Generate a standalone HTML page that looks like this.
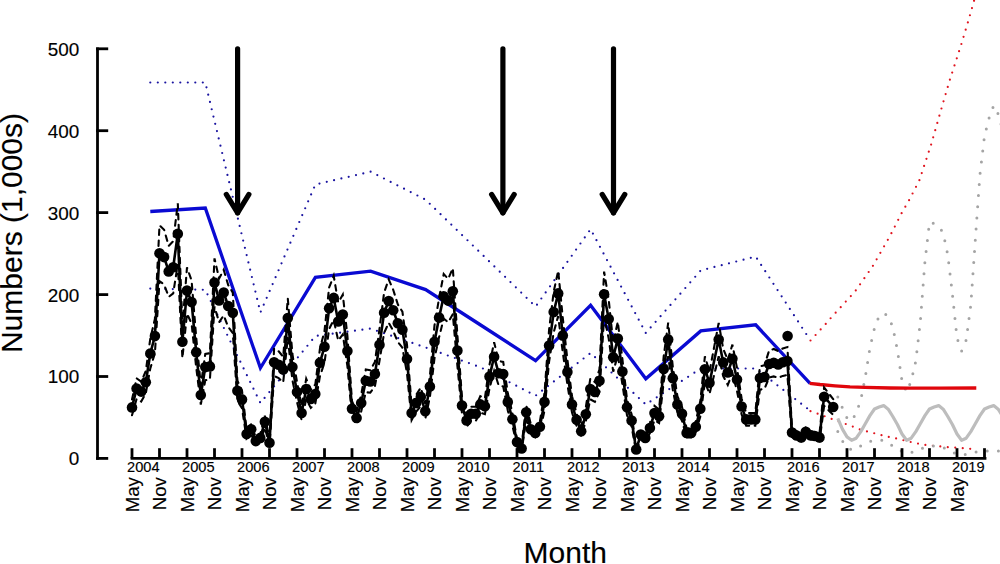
<!DOCTYPE html>
<html><head><meta charset="utf-8"><title>Chart</title>
<style>html,body{margin:0;padding:0;background:#fff;}svg{display:block;}</style>
</head><body>
<svg width="1000" height="564" viewBox="0 0 1000 564">
<rect width="1000" height="564" fill="#fff"/>
<polyline points="150.3,82.5 205.3,82.5 260.4,312.5 315.4,184.5 370.6,171.7 425.6,199.7 480.6,253.0 535.6,306.6 590.6,229.2 645.8,333.0 700.8,270.4 755.7,256.6 810.0,339.8" fill="none" stroke="#1a14a0" stroke-width="2.2" stroke-linecap="round" stroke-dasharray="0 7.5"/>
<polyline points="150.3,288.6 205.3,289.8 260.4,403.0 315.4,336.0 370.6,328.6 425.6,347.5 480.6,367.3 535.6,395.7 590.6,353.0 645.8,404.5 700.8,368.5 755.7,368.5 810.0,410.5" fill="none" stroke="#1a14a0" stroke-width="2.2" stroke-linecap="round" stroke-dasharray="0 7.5"/>
<polyline points="810.5,340.5 825.7,324.0 829.9,319.0 855.2,291.3 872.6,266.4 890.0,236.0 901.7,213.0 909.2,200.0 919.3,180.5 931.0,145.0 943.6,101.0 949.8,80.0 961.3,44.3 968.0,22.0 976.0,-6.0" fill="none" stroke="#e0141e" stroke-width="2.2" stroke-linecap="round" stroke-dasharray="0 7.5"/>
<polyline points="810.5,411.2 820.0,414.5 831.5,418.9 845.8,424.0 852.8,426.6 859.9,429.5 866.2,431.2 873.2,433.0 880.2,434.8 887.2,436.6 895.0,438.2 902.0,439.9 909.0,441.6 917.0,443.4 924.0,444.8 931.8,445.7 938.8,446.3 946.7,447.1 953.7,447.5 961.3,448.0 969.0,448.8 976.3,449.2" fill="none" stroke="#e0141e" stroke-width="2.2" stroke-linecap="round" stroke-dasharray="0 7.5"/>
<polyline points="837.8,397.0 842.4,408.0 847.0,418.0 851.6,421.0 856.2,413.0 860.8,400.0 865.3,377.0 869.9,348.0 874.5,328.0 879.1,316.0 883.7,313.0 888.2,316.0 892.8,327.0 897.4,350.0 902.0,381.0 906.6,392.0 911.2,381.0 915.8,361.0 920.3,322.0 924.9,262.0 929.5,222.0 934.1,223.5 938.7,226.0 943.2,233.0 947.8,255.0 952.4,294.0 957.0,338.0 961.6,351.0 966.2,340.0 970.8,305.0 975.3,240.0 979.9,175.0 984.5,136.0 989.1,118.0 993.7,105.5 998.2,114.0 1002.8,130.0" fill="none" stroke="#a4a4a4" stroke-width="3.0" stroke-linecap="round" stroke-dasharray="0 11.2"/>
<polyline points="837.8,431.5 842.4,441.0 847.0,447.0 851.6,450.0 856.2,449.0 860.8,446.0 865.3,443.5 869.9,441.5 874.5,440.5 879.1,440.0 883.7,440.5 888.2,443.0 892.8,446.0 897.4,449.0 902.0,451.5 906.6,453.0 911.2,452.5 915.8,451.0 920.3,449.0 924.9,447.5 929.5,446.5 934.1,446.0 938.7,446.5 943.2,447.5 947.8,450.0 952.4,452.5 957.0,454.0 961.6,455.0 966.2,454.5 970.8,453.0 975.3,452.0 979.9,451.5 984.5,451.0 989.1,451.0 993.7,451.0 998.2,451.0 1002.8,451.5" fill="none" stroke="#a4a4a4" stroke-width="3.0" stroke-linecap="round" stroke-dasharray="0 11.2"/>
<polyline points="837.8,418.4 842.4,429.1 847.0,436.9 851.6,440.3 856.2,438.2 860.8,431.6 865.3,423.8 869.9,415.6 874.5,409.0 879.1,407.0 883.7,405.6 888.2,409.2 892.8,416.5 897.4,424.5 902.0,434.0 906.6,440.3 911.2,438.2 915.8,431.6 920.3,423.8 924.9,415.6 929.5,409.0 934.1,407.0 938.7,405.6 943.2,409.2 947.8,416.5 952.4,424.5 957.0,434.0 961.6,440.3 966.2,438.2 970.8,431.6 975.3,423.8 979.9,415.6 984.5,409.0 989.1,407.0 993.7,405.6 998.2,409.2 1002.8,416.5 1007.4,424.5" fill="none" stroke="#bdbdbd" stroke-width="3.2" stroke-linejoin="round"/>
<polyline points="150.3,211.5 205.3,208.0 260.4,368.0 315.4,277.3 370.6,271.1 425.6,289.6 480.6,325.0 535.6,360.6 590.6,305.3 645.8,378.8 700.8,330.9 755.7,324.8 810.0,383.3" fill="none" stroke="#0a0ad2" stroke-width="3.3" stroke-linejoin="miter"/>
<polyline points="809.6,383.3 820.0,384.5 835.0,385.8 850.0,386.8 865.0,387.4 890.0,388.0 910.0,388.2 940.0,388.1 976.3,388.0" fill="none" stroke="#e0060c" stroke-width="3.3"/>
<polyline points="132.0,399.5 136.6,378.3 141.2,381.7 145.8,371.1 150.3,338.6 154.9,319.0 159.5,225.4 164.1,229.7 168.7,245.9 173.2,241.2 177.8,203.3 182.4,325.4 187.0,267.4 191.6,280.6 196.2,337.3 200.8,385.5 205.3,354.0 209.9,353.2 214.5,258.4 219.1,278.6 223.7,269.8 228.2,285.0 232.8,292.6 237.4,380.7 242.0,390.5 246.6,429.7 251.2,424.2 255.8,437.6 260.3,434.0 264.9,415.7 269.5,439.5 274.1,348.5 278.7,351.3 283.2,356.8 287.8,298.5 292.4,354.0 297.0,382.1 301.6,405.9 306.2,378.7 310.8,389.9 315.3,384.4 319.9,349.0 324.5,331.1 329.1,287.6 333.7,275.8 338.2,302.5 342.8,294.6 347.4,335.8 352.0,401.1 356.6,411.5 361.2,394.7 365.8,369.5 370.3,370.3 374.9,361.9 379.5,328.8 384.1,292.6 388.7,279.4 393.2,289.8 397.8,304.4 402.4,311.7 407.0,344.8 411.6,405.9 416.2,394.7 420.8,387.7 425.3,403.9 429.9,375.9 434.5,325.3 439.1,298.1 443.7,274.0 448.2,278.9 452.8,268.2 457.4,335.4 462.0,397.5 466.6,414.3 471.2,406.8 475.8,406.8 480.3,396.2 484.9,398.2 489.5,364.7 494.1,342.3 498.7,361.0 503.2,361.9 507.8,393.3 512.4,413.0 517.0,438.8 521.6,446.0 526.2,405.1 530.8,424.2 535.3,428.4 539.9,421.4 544.5,393.3 549.1,329.7 553.7,291.7 558.2,270.7 562.8,318.2 567.4,359.7 572.0,396.2 576.6,413.6 581.2,426.4 585.8,407.3 590.3,378.7 594.9,382.1 599.5,369.5 604.1,271.6 608.7,299.6 613.2,342.8 617.8,321.8 622.4,359.1 627.0,399.4 631.6,414.3 636.2,447.1 640.8,430.3 645.3,434.0 649.9,422.8 654.5,405.9 659.1,409.6 663.7,356.3 668.2,322.7 672.8,366.7 677.4,396.2 682.0,406.8 686.6,428.4 691.2,428.4 695.8,421.4 700.3,401.1 704.9,356.4 709.5,371.7 718.7,322.9 723.2,348.7 727.8,360.1 732.4,344.6 737.0,368.0 741.6,398.5 746.2,413.1 750.8,413.1 755.3,413.1 759.9,366.3 764.5,365.2 769.1,350.5 773.7,349.0 778.2,351.1 782.8,348.5 787.4,347.1 792.0,427.9 796.6,431.3 801.2,433.4 805.8,427.1 810.3,431.1 814.9,431.9 819.5,433.4 824.1,387.5 833.2,399.1" fill="none" stroke="#000" stroke-width="2.1" stroke-dasharray="5.5 5.5" stroke-linecap="round"/>
<polyline points="132.0,415.3 136.6,398.9 141.2,401.5 145.8,393.3 150.3,368.4 154.9,353.2 159.5,281.2 164.1,284.5 168.7,296.9 173.2,293.4 177.8,264.1 182.4,358.2 187.0,313.6 191.6,323.6 196.2,367.3 200.8,404.5 205.3,380.2 209.9,379.6 214.5,306.6 219.1,322.2 223.7,315.4 228.2,327.0 232.8,333.0 237.4,400.7 242.0,408.3 246.6,438.5 251.2,434.2 255.8,444.6 260.3,441.8 264.9,427.7 269.5,446.1 274.1,375.9 278.7,378.1 283.2,382.4 287.8,337.5 292.4,380.2 297.0,401.9 301.6,420.1 306.2,399.3 310.8,407.9 315.3,403.6 319.9,376.4 324.5,362.5 329.1,329.0 333.7,320.0 338.2,340.5 342.8,334.4 347.4,366.2 352.0,416.5 356.6,424.5 361.2,411.5 365.8,392.1 370.3,392.7 374.9,386.3 379.5,360.8 384.1,333.0 388.7,322.8 393.2,330.8 397.8,342.0 402.4,347.7 407.0,373.2 411.6,420.1 416.2,411.5 420.8,406.1 425.3,418.7 429.9,397.1 434.5,358.1 439.1,337.1 443.7,318.6 448.2,322.3 452.8,314.2 457.4,365.8 462.0,413.7 466.6,426.7 471.2,420.8 475.8,420.8 480.3,412.6 484.9,414.2 489.5,388.5 494.1,371.1 498.7,385.6 503.2,386.3 507.8,410.5 512.4,425.6 517.0,445.4 521.6,451.0 526.2,419.5 530.8,434.2 535.3,437.4 539.9,432.0 544.5,410.5 549.1,361.5 553.7,332.3 558.2,316.1 562.8,352.6 567.4,384.5 572.0,412.6 576.6,426.0 581.2,436.0 585.8,421.3 590.3,399.3 594.9,401.9 599.5,392.1 604.1,316.8 608.7,338.4 613.2,371.6 617.8,355.4 622.4,384.1 627.0,415.2 631.6,426.7 636.2,451.9 640.8,438.9 645.3,441.8 649.9,433.2 654.5,420.1 659.1,423.0 663.7,381.9 668.2,356.1 672.8,389.9 677.4,412.6 682.0,420.8 686.6,437.4 691.2,437.4 695.8,432.0 700.3,416.5 704.9,382.0 709.5,393.9 718.7,356.3 723.2,376.1 727.8,384.9 732.4,373.0 737.0,391.0 741.6,414.5 746.2,425.7 750.8,425.7 755.3,425.7 759.9,389.7 764.5,388.8 769.1,377.5 773.7,376.4 778.2,377.9 782.8,375.9 787.4,374.9 792.0,437.1 796.6,439.7 801.2,441.4 805.8,436.5 810.3,439.5 814.9,440.1 819.5,441.4 824.1,405.9 833.2,414.9" fill="none" stroke="#000" stroke-width="2.1" stroke-dasharray="5.5 5.5" stroke-linecap="round"/>
<polyline points="132.0,407.4 136.6,388.6 141.2,391.6 145.8,382.2 150.3,353.5 154.9,336.1 159.5,253.3 164.1,257.1 168.7,271.4 173.2,267.3 177.8,233.7 182.4,341.8 187.0,290.5 191.6,302.1 196.2,352.3 200.8,395.0 205.3,367.1 209.9,366.4 214.5,282.5 219.1,300.4 223.7,292.6 228.2,306.0 232.8,312.8 237.4,390.7 242.0,399.4 246.6,434.1 251.2,429.2 255.8,441.1 260.3,437.9 264.9,421.7 269.5,442.8 274.1,362.2 278.7,364.7 283.2,369.6 287.8,318.0 292.4,367.1 297.0,392.0 301.6,413.0 306.2,389.0 310.8,398.9 315.3,394.0 319.9,362.7 324.5,346.8 329.1,308.3 333.7,297.9 338.2,321.5 342.8,314.5 347.4,351.0 352.0,408.8 356.6,418.0 361.2,403.1 365.8,380.8 370.3,381.5 374.9,374.1 379.5,344.8 384.1,312.8 388.7,301.1 393.2,310.3 397.8,323.2 402.4,329.7 407.0,359.0 411.6,413.0 416.2,403.1 420.8,396.9 425.3,411.3 429.9,386.5 434.5,341.7 439.1,317.6 443.7,296.3 448.2,300.6 452.8,291.2 457.4,350.6 462.0,405.6 466.6,420.5 471.2,413.8 475.8,413.8 480.3,404.4 484.9,406.2 489.5,376.6 494.1,356.7 498.7,373.3 503.2,374.1 507.8,401.9 512.4,419.3 517.0,442.1 521.6,448.5 526.2,412.3 530.8,429.2 535.3,432.9 539.9,426.7 544.5,401.9 549.1,345.6 553.7,312.0 558.2,293.4 562.8,335.4 567.4,372.1 572.0,404.4 576.6,419.8 581.2,431.2 585.8,414.3 590.3,389.0 594.9,392.0 599.5,380.8 604.1,294.2 608.7,319.0 613.2,357.2 617.8,338.6 622.4,371.6 627.0,407.3 631.6,420.5 636.2,449.5 640.8,434.6 645.3,437.9 649.9,428.0 654.5,413.0 659.1,416.3 663.7,369.1 668.2,339.4 672.8,378.3 677.4,404.4 682.0,413.8 686.6,432.9 691.2,432.9 695.8,426.7 700.3,408.8 704.9,369.2 709.5,382.8 718.7,339.6 723.2,362.4 727.8,372.5 732.4,358.8 737.0,379.5 741.6,406.5 746.2,419.4 750.8,419.4 755.3,419.4 759.9,378.0 764.5,377.0 769.1,364.0 773.7,362.7 778.2,364.5 782.8,362.2 787.4,361.0 792.0,432.5 796.6,435.5 801.2,437.4 805.8,431.8 810.3,435.3 814.9,436.0 819.5,437.4 824.1,396.7 833.2,407.0" fill="none" stroke="#000" stroke-width="2.6" stroke-linejoin="round"/>
<circle cx="132.0" cy="407.4" r="5.3"/>
<circle cx="136.6" cy="388.6" r="5.3"/>
<circle cx="141.2" cy="391.6" r="5.3"/>
<circle cx="145.8" cy="382.2" r="5.3"/>
<circle cx="150.3" cy="353.5" r="5.3"/>
<circle cx="154.9" cy="336.1" r="5.3"/>
<circle cx="159.5" cy="253.3" r="5.3"/>
<circle cx="164.1" cy="257.1" r="5.3"/>
<circle cx="168.7" cy="271.4" r="5.3"/>
<circle cx="173.2" cy="267.3" r="5.3"/>
<circle cx="177.8" cy="233.7" r="5.3"/>
<circle cx="182.4" cy="341.8" r="5.3"/>
<circle cx="187.0" cy="290.5" r="5.3"/>
<circle cx="191.6" cy="302.1" r="5.3"/>
<circle cx="196.2" cy="352.3" r="5.3"/>
<circle cx="200.8" cy="395.0" r="5.3"/>
<circle cx="205.3" cy="367.1" r="5.3"/>
<circle cx="209.9" cy="366.4" r="5.3"/>
<circle cx="214.5" cy="282.5" r="5.3"/>
<circle cx="219.1" cy="300.4" r="5.3"/>
<circle cx="223.7" cy="292.6" r="5.3"/>
<circle cx="228.2" cy="306.0" r="5.3"/>
<circle cx="232.8" cy="312.8" r="5.3"/>
<circle cx="237.4" cy="390.7" r="5.3"/>
<circle cx="242.0" cy="399.4" r="5.3"/>
<circle cx="246.6" cy="434.1" r="5.3"/>
<circle cx="251.2" cy="429.2" r="5.3"/>
<circle cx="255.8" cy="441.1" r="5.3"/>
<circle cx="260.3" cy="437.9" r="5.3"/>
<circle cx="264.9" cy="421.7" r="5.3"/>
<circle cx="269.5" cy="442.8" r="5.3"/>
<circle cx="274.1" cy="362.2" r="5.3"/>
<circle cx="278.7" cy="364.7" r="5.3"/>
<circle cx="283.2" cy="369.6" r="5.3"/>
<circle cx="287.8" cy="318.0" r="5.3"/>
<circle cx="292.4" cy="367.1" r="5.3"/>
<circle cx="297.0" cy="392.0" r="5.3"/>
<circle cx="301.6" cy="413.0" r="5.3"/>
<circle cx="306.2" cy="389.0" r="5.3"/>
<circle cx="310.8" cy="398.9" r="5.3"/>
<circle cx="315.3" cy="394.0" r="5.3"/>
<circle cx="319.9" cy="362.7" r="5.3"/>
<circle cx="324.5" cy="346.8" r="5.3"/>
<circle cx="329.1" cy="308.3" r="5.3"/>
<circle cx="333.7" cy="297.9" r="5.3"/>
<circle cx="338.2" cy="321.5" r="5.3"/>
<circle cx="342.8" cy="314.5" r="5.3"/>
<circle cx="347.4" cy="351.0" r="5.3"/>
<circle cx="352.0" cy="408.8" r="5.3"/>
<circle cx="356.6" cy="418.0" r="5.3"/>
<circle cx="361.2" cy="403.1" r="5.3"/>
<circle cx="365.8" cy="380.8" r="5.3"/>
<circle cx="370.3" cy="381.5" r="5.3"/>
<circle cx="374.9" cy="374.1" r="5.3"/>
<circle cx="379.5" cy="344.8" r="5.3"/>
<circle cx="384.1" cy="312.8" r="5.3"/>
<circle cx="388.7" cy="301.1" r="5.3"/>
<circle cx="393.2" cy="310.3" r="5.3"/>
<circle cx="397.8" cy="323.2" r="5.3"/>
<circle cx="402.4" cy="329.7" r="5.3"/>
<circle cx="407.0" cy="359.0" r="5.3"/>
<circle cx="411.6" cy="413.0" r="5.3"/>
<circle cx="416.2" cy="403.1" r="5.3"/>
<circle cx="420.8" cy="396.9" r="5.3"/>
<circle cx="425.3" cy="411.3" r="5.3"/>
<circle cx="429.9" cy="386.5" r="5.3"/>
<circle cx="434.5" cy="341.7" r="5.3"/>
<circle cx="439.1" cy="317.6" r="5.3"/>
<circle cx="443.7" cy="296.3" r="5.3"/>
<circle cx="448.2" cy="300.6" r="5.3"/>
<circle cx="452.8" cy="291.2" r="5.3"/>
<circle cx="457.4" cy="350.6" r="5.3"/>
<circle cx="462.0" cy="405.6" r="5.3"/>
<circle cx="466.6" cy="420.5" r="5.3"/>
<circle cx="471.2" cy="413.8" r="5.3"/>
<circle cx="475.8" cy="413.8" r="5.3"/>
<circle cx="480.3" cy="404.4" r="5.3"/>
<circle cx="484.9" cy="406.2" r="5.3"/>
<circle cx="489.5" cy="376.6" r="5.3"/>
<circle cx="494.1" cy="356.7" r="5.3"/>
<circle cx="498.7" cy="373.3" r="5.3"/>
<circle cx="503.2" cy="374.1" r="5.3"/>
<circle cx="507.8" cy="401.9" r="5.3"/>
<circle cx="512.4" cy="419.3" r="5.3"/>
<circle cx="517.0" cy="442.1" r="5.3"/>
<circle cx="521.6" cy="448.5" r="5.3"/>
<circle cx="526.2" cy="412.3" r="5.3"/>
<circle cx="530.8" cy="429.2" r="5.3"/>
<circle cx="535.3" cy="432.9" r="5.3"/>
<circle cx="539.9" cy="426.7" r="5.3"/>
<circle cx="544.5" cy="401.9" r="5.3"/>
<circle cx="549.1" cy="345.6" r="5.3"/>
<circle cx="553.7" cy="312.0" r="5.3"/>
<circle cx="558.2" cy="293.4" r="5.3"/>
<circle cx="562.8" cy="335.4" r="5.3"/>
<circle cx="567.4" cy="372.1" r="5.3"/>
<circle cx="572.0" cy="404.4" r="5.3"/>
<circle cx="576.6" cy="419.8" r="5.3"/>
<circle cx="581.2" cy="431.2" r="5.3"/>
<circle cx="585.8" cy="414.3" r="5.3"/>
<circle cx="590.3" cy="389.0" r="5.3"/>
<circle cx="594.9" cy="392.0" r="5.3"/>
<circle cx="599.5" cy="380.8" r="5.3"/>
<circle cx="604.1" cy="294.2" r="5.3"/>
<circle cx="608.7" cy="319.0" r="5.3"/>
<circle cx="613.2" cy="357.2" r="5.3"/>
<circle cx="617.8" cy="338.6" r="5.3"/>
<circle cx="622.4" cy="371.6" r="5.3"/>
<circle cx="627.0" cy="407.3" r="5.3"/>
<circle cx="631.6" cy="420.5" r="5.3"/>
<circle cx="636.2" cy="449.5" r="5.3"/>
<circle cx="640.8" cy="434.6" r="5.3"/>
<circle cx="645.3" cy="437.9" r="5.3"/>
<circle cx="649.9" cy="428.0" r="5.3"/>
<circle cx="654.5" cy="413.0" r="5.3"/>
<circle cx="659.1" cy="416.3" r="5.3"/>
<circle cx="663.7" cy="369.1" r="5.3"/>
<circle cx="668.2" cy="339.4" r="5.3"/>
<circle cx="672.8" cy="378.3" r="5.3"/>
<circle cx="677.4" cy="404.4" r="5.3"/>
<circle cx="682.0" cy="413.8" r="5.3"/>
<circle cx="686.6" cy="432.9" r="5.3"/>
<circle cx="691.2" cy="432.9" r="5.3"/>
<circle cx="695.8" cy="426.7" r="5.3"/>
<circle cx="700.3" cy="408.8" r="5.3"/>
<circle cx="704.9" cy="369.2" r="5.3"/>
<circle cx="709.5" cy="382.8" r="5.3"/>
<circle cx="718.7" cy="339.6" r="5.3"/>
<circle cx="723.2" cy="362.4" r="5.3"/>
<circle cx="727.8" cy="372.5" r="5.3"/>
<circle cx="732.4" cy="358.8" r="5.3"/>
<circle cx="737.0" cy="379.5" r="5.3"/>
<circle cx="741.6" cy="406.5" r="5.3"/>
<circle cx="746.2" cy="419.4" r="5.3"/>
<circle cx="750.8" cy="419.4" r="5.3"/>
<circle cx="755.3" cy="419.4" r="5.3"/>
<circle cx="759.9" cy="378.0" r="5.3"/>
<circle cx="764.5" cy="377.0" r="5.3"/>
<circle cx="769.1" cy="364.0" r="5.3"/>
<circle cx="773.7" cy="362.7" r="5.3"/>
<circle cx="778.2" cy="364.5" r="5.3"/>
<circle cx="782.8" cy="362.2" r="5.3"/>
<circle cx="787.4" cy="361.0" r="5.3"/>
<circle cx="792.0" cy="432.5" r="5.3"/>
<circle cx="796.6" cy="435.5" r="5.3"/>
<circle cx="801.2" cy="437.4" r="5.3"/>
<circle cx="805.8" cy="431.8" r="5.3"/>
<circle cx="810.3" cy="435.3" r="5.3"/>
<circle cx="814.9" cy="436.0" r="5.3"/>
<circle cx="819.5" cy="437.4" r="5.3"/>
<circle cx="824.1" cy="396.7" r="5.3"/>
<circle cx="833.2" cy="407.0" r="5.3"/>
<circle cx="787.6" cy="336.0" r="5.3"/>
<g stroke="#000" stroke-width="5.2" stroke-linecap="round" fill="none"><line x1="237.6" y1="48.8" x2="237.6" y2="212.8"/><polyline points="226.3,194.4 237.6,212.8 248.9,194.4" stroke-linejoin="round"/></g>
<g stroke="#000" stroke-width="5.2" stroke-linecap="round" fill="none"><line x1="502.9" y1="48.8" x2="502.9" y2="212.8"/><polyline points="491.6,194.4 502.9,212.8 514.2,194.4" stroke-linejoin="round"/></g>
<g stroke="#000" stroke-width="5.2" stroke-linecap="round" fill="none"><line x1="613.5" y1="48.8" x2="613.5" y2="212.8"/><polyline points="602.2,194.4 613.5,212.8 624.8,194.4" stroke-linejoin="round"/></g>
<g stroke="#000" stroke-width="2.8" fill="none">
<line x1="97.5" y1="47.4" x2="97.5" y2="459.8"/>
<line x1="96.1" y1="458.4" x2="108.2" y2="458.4"/>
<line x1="96.1" y1="376.5" x2="108.2" y2="376.5"/>
<line x1="96.1" y1="294.6" x2="108.2" y2="294.6"/>
<line x1="96.1" y1="212.6" x2="108.2" y2="212.6"/>
<line x1="96.1" y1="130.7" x2="108.2" y2="130.7"/>
<line x1="96.1" y1="48.8" x2="108.2" y2="48.8"/>
<line x1="130.6" y1="458.4" x2="986.4" y2="458.4"/>
<line x1="132.0" y1="448.2" x2="132.0" y2="458.4"/>
<line x1="159.5" y1="448.2" x2="159.5" y2="458.4"/>
<line x1="187.0" y1="448.2" x2="187.0" y2="458.4"/>
<line x1="214.5" y1="448.2" x2="214.5" y2="458.4"/>
<line x1="242.0" y1="448.2" x2="242.0" y2="458.4"/>
<line x1="269.5" y1="448.2" x2="269.5" y2="458.4"/>
<line x1="297.0" y1="448.2" x2="297.0" y2="458.4"/>
<line x1="324.5" y1="448.2" x2="324.5" y2="458.4"/>
<line x1="352.0" y1="448.2" x2="352.0" y2="458.4"/>
<line x1="379.5" y1="448.2" x2="379.5" y2="458.4"/>
<line x1="407.0" y1="448.2" x2="407.0" y2="458.4"/>
<line x1="434.5" y1="448.2" x2="434.5" y2="458.4"/>
<line x1="462.0" y1="448.2" x2="462.0" y2="458.4"/>
<line x1="489.5" y1="448.2" x2="489.5" y2="458.4"/>
<line x1="517.0" y1="448.2" x2="517.0" y2="458.4"/>
<line x1="544.5" y1="448.2" x2="544.5" y2="458.4"/>
<line x1="572.0" y1="448.2" x2="572.0" y2="458.4"/>
<line x1="599.5" y1="448.2" x2="599.5" y2="458.4"/>
<line x1="627.0" y1="448.2" x2="627.0" y2="458.4"/>
<line x1="654.5" y1="448.2" x2="654.5" y2="458.4"/>
<line x1="682.0" y1="448.2" x2="682.0" y2="458.4"/>
<line x1="709.5" y1="448.2" x2="709.5" y2="458.4"/>
<line x1="737.0" y1="448.2" x2="737.0" y2="458.4"/>
<line x1="764.5" y1="448.2" x2="764.5" y2="458.4"/>
<line x1="792.0" y1="448.2" x2="792.0" y2="458.4"/>
<line x1="819.5" y1="448.2" x2="819.5" y2="458.4"/>
<line x1="847.0" y1="448.2" x2="847.0" y2="458.4"/>
<line x1="874.5" y1="448.2" x2="874.5" y2="458.4"/>
<line x1="902.0" y1="448.2" x2="902.0" y2="458.4"/>
<line x1="929.5" y1="448.2" x2="929.5" y2="458.4"/>
<line x1="957.0" y1="448.2" x2="957.0" y2="458.4"/>
<line x1="984.5" y1="448.2" x2="984.5" y2="458.4"/>
</g>
<text transform="translate(79.2,465.3) scale(0.995,1.0)" font-size="19" text-anchor="end" font-family="'Liberation Sans', sans-serif" stroke="#000" stroke-width="0.15">0</text>
<text transform="translate(79.2,383.4) scale(0.995,1.0)" font-size="19" text-anchor="end" font-family="'Liberation Sans', sans-serif" stroke="#000" stroke-width="0.15">100</text>
<text transform="translate(79.2,301.5) scale(0.995,1.0)" font-size="19" text-anchor="end" font-family="'Liberation Sans', sans-serif" stroke="#000" stroke-width="0.15">200</text>
<text transform="translate(79.2,219.5) scale(0.995,1.0)" font-size="19" text-anchor="end" font-family="'Liberation Sans', sans-serif" stroke="#000" stroke-width="0.15">300</text>
<text transform="translate(79.2,137.6) scale(0.995,1.0)" font-size="19" text-anchor="end" font-family="'Liberation Sans', sans-serif" stroke="#000" stroke-width="0.15">400</text>
<text transform="translate(79.2,55.7) scale(0.995,1.0)" font-size="19" text-anchor="end" font-family="'Liberation Sans', sans-serif" stroke="#000" stroke-width="0.15">500</text>
<text transform="translate(143.3,472.4) scale(0.975,1.0)" font-size="15" text-anchor="middle" font-family="'Liberation Sans', sans-serif" stroke="#000" stroke-width="0.15">2004</text>
<text transform="translate(198.3,472.4) scale(0.975,1.0)" font-size="15" text-anchor="middle" font-family="'Liberation Sans', sans-serif" stroke="#000" stroke-width="0.15">2005</text>
<text transform="translate(253.3,472.4) scale(0.975,1.0)" font-size="15" text-anchor="middle" font-family="'Liberation Sans', sans-serif" stroke="#000" stroke-width="0.15">2006</text>
<text transform="translate(308.3,472.4) scale(0.975,1.0)" font-size="15" text-anchor="middle" font-family="'Liberation Sans', sans-serif" stroke="#000" stroke-width="0.15">2007</text>
<text transform="translate(363.3,472.4) scale(0.975,1.0)" font-size="15" text-anchor="middle" font-family="'Liberation Sans', sans-serif" stroke="#000" stroke-width="0.15">2008</text>
<text transform="translate(418.3,472.4) scale(0.975,1.0)" font-size="15" text-anchor="middle" font-family="'Liberation Sans', sans-serif" stroke="#000" stroke-width="0.15">2009</text>
<text transform="translate(473.3,472.4) scale(0.975,1.0)" font-size="15" text-anchor="middle" font-family="'Liberation Sans', sans-serif" stroke="#000" stroke-width="0.15">2010</text>
<text transform="translate(528.3,472.4) scale(0.975,1.0)" font-size="15" text-anchor="middle" font-family="'Liberation Sans', sans-serif" stroke="#000" stroke-width="0.15">2011</text>
<text transform="translate(583.3,472.4) scale(0.975,1.0)" font-size="15" text-anchor="middle" font-family="'Liberation Sans', sans-serif" stroke="#000" stroke-width="0.15">2012</text>
<text transform="translate(638.3,472.4) scale(0.975,1.0)" font-size="15" text-anchor="middle" font-family="'Liberation Sans', sans-serif" stroke="#000" stroke-width="0.15">2013</text>
<text transform="translate(693.3,472.4) scale(0.975,1.0)" font-size="15" text-anchor="middle" font-family="'Liberation Sans', sans-serif" stroke="#000" stroke-width="0.15">2014</text>
<text transform="translate(748.3,472.4) scale(0.975,1.0)" font-size="15" text-anchor="middle" font-family="'Liberation Sans', sans-serif" stroke="#000" stroke-width="0.15">2015</text>
<text transform="translate(803.3,472.4) scale(0.975,1.0)" font-size="15" text-anchor="middle" font-family="'Liberation Sans', sans-serif" stroke="#000" stroke-width="0.15">2016</text>
<text transform="translate(858.3,472.4) scale(0.975,1.0)" font-size="15" text-anchor="middle" font-family="'Liberation Sans', sans-serif" stroke="#000" stroke-width="0.15">2017</text>
<text transform="translate(913.3,472.4) scale(0.975,1.0)" font-size="15" text-anchor="middle" font-family="'Liberation Sans', sans-serif" stroke="#000" stroke-width="0.15">2018</text>
<text transform="translate(968.3,472.4) scale(0.975,1.0)" font-size="15" text-anchor="middle" font-family="'Liberation Sans', sans-serif" stroke="#000" stroke-width="0.15">2019</text>
<text transform="translate(138.7,477.2) rotate(-90) scale(1,1)" font-size="18.6" text-anchor="end" font-family="'Liberation Sans', sans-serif" stroke="#000" stroke-width="0.15">May</text>
<text transform="translate(166.2,477.2) rotate(-90) scale(1,1)" font-size="18.6" text-anchor="end" font-family="'Liberation Sans', sans-serif" stroke="#000" stroke-width="0.15">Nov</text>
<text transform="translate(193.7,477.2) rotate(-90) scale(1,1)" font-size="18.6" text-anchor="end" font-family="'Liberation Sans', sans-serif" stroke="#000" stroke-width="0.15">May</text>
<text transform="translate(221.2,477.2) rotate(-90) scale(1,1)" font-size="18.6" text-anchor="end" font-family="'Liberation Sans', sans-serif" stroke="#000" stroke-width="0.15">Nov</text>
<text transform="translate(248.7,477.2) rotate(-90) scale(1,1)" font-size="18.6" text-anchor="end" font-family="'Liberation Sans', sans-serif" stroke="#000" stroke-width="0.15">May</text>
<text transform="translate(276.2,477.2) rotate(-90) scale(1,1)" font-size="18.6" text-anchor="end" font-family="'Liberation Sans', sans-serif" stroke="#000" stroke-width="0.15">Nov</text>
<text transform="translate(303.7,477.2) rotate(-90) scale(1,1)" font-size="18.6" text-anchor="end" font-family="'Liberation Sans', sans-serif" stroke="#000" stroke-width="0.15">May</text>
<text transform="translate(331.2,477.2) rotate(-90) scale(1,1)" font-size="18.6" text-anchor="end" font-family="'Liberation Sans', sans-serif" stroke="#000" stroke-width="0.15">Nov</text>
<text transform="translate(358.7,477.2) rotate(-90) scale(1,1)" font-size="18.6" text-anchor="end" font-family="'Liberation Sans', sans-serif" stroke="#000" stroke-width="0.15">May</text>
<text transform="translate(386.2,477.2) rotate(-90) scale(1,1)" font-size="18.6" text-anchor="end" font-family="'Liberation Sans', sans-serif" stroke="#000" stroke-width="0.15">Nov</text>
<text transform="translate(413.7,477.2) rotate(-90) scale(1,1)" font-size="18.6" text-anchor="end" font-family="'Liberation Sans', sans-serif" stroke="#000" stroke-width="0.15">May</text>
<text transform="translate(441.2,477.2) rotate(-90) scale(1,1)" font-size="18.6" text-anchor="end" font-family="'Liberation Sans', sans-serif" stroke="#000" stroke-width="0.15">Nov</text>
<text transform="translate(468.7,477.2) rotate(-90) scale(1,1)" font-size="18.6" text-anchor="end" font-family="'Liberation Sans', sans-serif" stroke="#000" stroke-width="0.15">May</text>
<text transform="translate(496.2,477.2) rotate(-90) scale(1,1)" font-size="18.6" text-anchor="end" font-family="'Liberation Sans', sans-serif" stroke="#000" stroke-width="0.15">Nov</text>
<text transform="translate(523.7,477.2) rotate(-90) scale(1,1)" font-size="18.6" text-anchor="end" font-family="'Liberation Sans', sans-serif" stroke="#000" stroke-width="0.15">May</text>
<text transform="translate(551.2,477.2) rotate(-90) scale(1,1)" font-size="18.6" text-anchor="end" font-family="'Liberation Sans', sans-serif" stroke="#000" stroke-width="0.15">Nov</text>
<text transform="translate(578.7,477.2) rotate(-90) scale(1,1)" font-size="18.6" text-anchor="end" font-family="'Liberation Sans', sans-serif" stroke="#000" stroke-width="0.15">May</text>
<text transform="translate(606.2,477.2) rotate(-90) scale(1,1)" font-size="18.6" text-anchor="end" font-family="'Liberation Sans', sans-serif" stroke="#000" stroke-width="0.15">Nov</text>
<text transform="translate(633.7,477.2) rotate(-90) scale(1,1)" font-size="18.6" text-anchor="end" font-family="'Liberation Sans', sans-serif" stroke="#000" stroke-width="0.15">May</text>
<text transform="translate(661.2,477.2) rotate(-90) scale(1,1)" font-size="18.6" text-anchor="end" font-family="'Liberation Sans', sans-serif" stroke="#000" stroke-width="0.15">Nov</text>
<text transform="translate(688.7,477.2) rotate(-90) scale(1,1)" font-size="18.6" text-anchor="end" font-family="'Liberation Sans', sans-serif" stroke="#000" stroke-width="0.15">May</text>
<text transform="translate(716.2,477.2) rotate(-90) scale(1,1)" font-size="18.6" text-anchor="end" font-family="'Liberation Sans', sans-serif" stroke="#000" stroke-width="0.15">Nov</text>
<text transform="translate(743.7,477.2) rotate(-90) scale(1,1)" font-size="18.6" text-anchor="end" font-family="'Liberation Sans', sans-serif" stroke="#000" stroke-width="0.15">May</text>
<text transform="translate(771.2,477.2) rotate(-90) scale(1,1)" font-size="18.6" text-anchor="end" font-family="'Liberation Sans', sans-serif" stroke="#000" stroke-width="0.15">Nov</text>
<text transform="translate(798.7,477.2) rotate(-90) scale(1,1)" font-size="18.6" text-anchor="end" font-family="'Liberation Sans', sans-serif" stroke="#000" stroke-width="0.15">May</text>
<text transform="translate(826.2,477.2) rotate(-90) scale(1,1)" font-size="18.6" text-anchor="end" font-family="'Liberation Sans', sans-serif" stroke="#000" stroke-width="0.15">Nov</text>
<text transform="translate(853.7,477.2) rotate(-90) scale(1,1)" font-size="18.6" text-anchor="end" font-family="'Liberation Sans', sans-serif" stroke="#000" stroke-width="0.15">May</text>
<text transform="translate(881.2,477.2) rotate(-90) scale(1,1)" font-size="18.6" text-anchor="end" font-family="'Liberation Sans', sans-serif" stroke="#000" stroke-width="0.15">Nov</text>
<text transform="translate(908.7,477.2) rotate(-90) scale(1,1)" font-size="18.6" text-anchor="end" font-family="'Liberation Sans', sans-serif" stroke="#000" stroke-width="0.15">May</text>
<text transform="translate(936.2,477.2) rotate(-90) scale(1,1)" font-size="18.6" text-anchor="end" font-family="'Liberation Sans', sans-serif" stroke="#000" stroke-width="0.15">Nov</text>
<text transform="translate(963.7,477.2) rotate(-90) scale(1,1)" font-size="18.6" text-anchor="end" font-family="'Liberation Sans', sans-serif" stroke="#000" stroke-width="0.15">May</text>
<text transform="translate(565.3,562.7) scale(1,1)" font-size="30" text-anchor="middle" font-family="'Liberation Sans', sans-serif" stroke="#000" stroke-width="0.15">Month</text>
<text transform="translate(22.3,233) rotate(-90) scale(1,1)" font-size="30" text-anchor="middle" font-family="'Liberation Sans', sans-serif" stroke="#000" stroke-width="0.15">Numbers (1,000s)</text>
</svg>
</body></html>
